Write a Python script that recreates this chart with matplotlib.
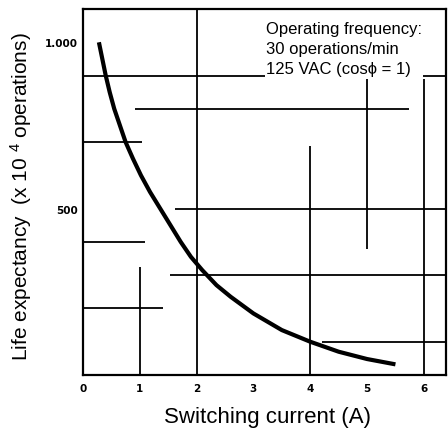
import matplotlib.pyplot as plt

plt.rcParams["font.family"] = ["Liberation Sans", "DejaVu Sans"]
plt.rcParams["mathtext.fontset"] = "custom"
plt.rcParams["mathtext.rm"] = "Liberation Sans"
plt.rcParams["mathtext.it"] = "Liberation Sans"

# life curve
current = [0.28, 0.34, 0.40, 0.47, 0.55, 0.65, 0.75, 0.88, 1.02, 1.18, 1.36, 1.54, 1.72,
           1.9, 2.1, 2.35, 2.6, 3.0, 3.5, 4.0, 4.5, 5.0, 5.5]
life = [1000, 950, 900, 850, 800, 750, 700, 650, 600, 550, 500, 450, 400,
        355, 315, 270, 235, 185, 135, 100, 70, 48, 32]

x_ticks = [0, 1, 2, 3, 4, 5, 6]
y_ticks = [500, 1000]
y_tick_labels = ["500", "1.000"]

# grid pieces that survive in the scan: (value, start, end)
h_grid = [(900, 0, 6.4), (800, 0.92, 5.74), (700, 0, 1.04), (500, 1.62, 6.4),
          (400, 0, 1.1), (300, 1.53, 6.4), (200, 0, 1.4), (100, 4.2, 6.4)]
v_grid = [(1, 0, 325), (2, 0, 1100), (4, 0, 687), (5, 380, 890), (6, 0, 890)]

fig = plt.figure(figsize=(4.48, 4.31), dpi=100)
ax = fig.add_axes([83 / 448, 55 / 431, 363 / 448, 366 / 431])

for y, x0, x1 in h_grid:
    ax.hlines(y, x0, x1, color="black", lw=1.3, zorder=1)
for x, y0, y1 in v_grid:
    ax.vlines(x, y0, y1, color="black", lw=1.3, zorder=1)

ax.plot(current, life, color="black", lw=3.0, solid_capstyle="butt",
        solid_joinstyle="round", zorder=3)

ax.set_xlim(0, 6.39)
ax.set_ylim(0, 1100)
ax.set_xticks(x_ticks)
ax.set_xticklabels([str(t) for t in x_ticks], fontsize=7.5,
                   family="DejaVu Sans", fontweight="bold")
ax.set_yticks(y_ticks)
ax.set_yticklabels(y_tick_labels, fontsize=7.5, family="DejaVu Sans",
                   fontweight="bold")
ax.tick_params(axis="x", length=0, pad=6)
ax.tick_params(axis="y", length=0, pad=4)
for s in ax.spines.values():
    s.set_linewidth(1.6)

ax.text(3.22, 1065,
        "Operating frequency:\n30 operations/min\n125 VAC (cos\u03d5 = 1)",
        fontsize=12, va="top", ha="left", linespacing=1.45, zorder=4,
        bbox=dict(facecolor="white", edgecolor="none", pad=1))

fig.text(267 / 448, 1 - 418 / 431, "Switching current (A)", fontsize=16,
         ha="center", va="center")
fig.text(21 / 448, 1 - 197 / 431, "Life expectancy  (x 10 $^{4}$ operations)",
         fontsize=15, ha="center", va="center", rotation=90)

fig.savefig("out.png", dpi=100)
